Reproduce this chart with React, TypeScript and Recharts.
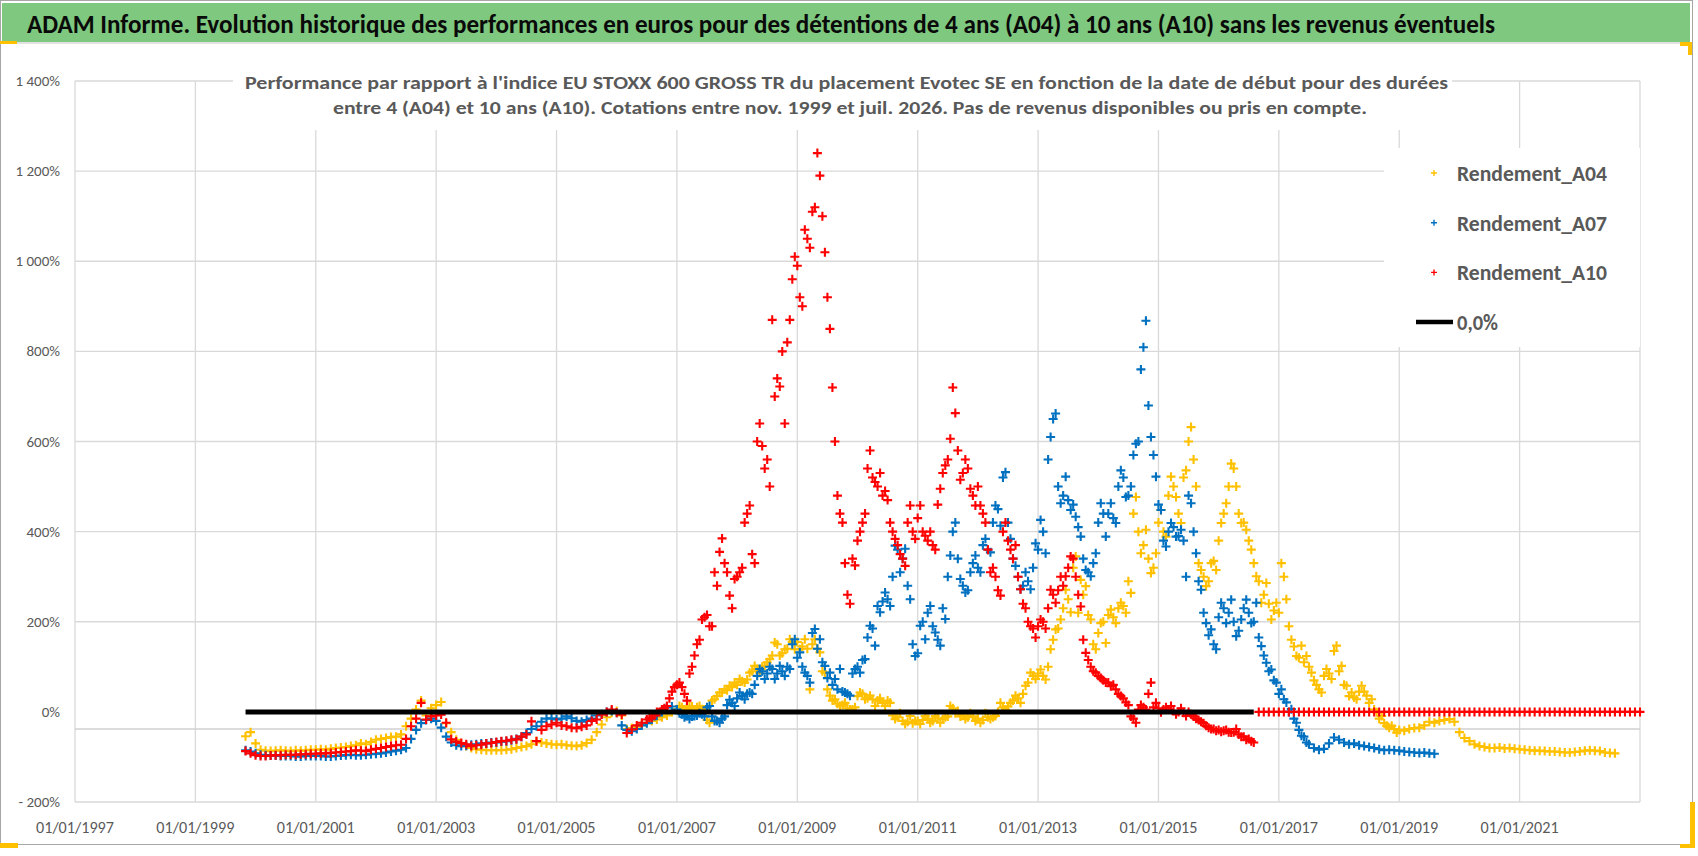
import {
  CartesianGrid,
  Legend,
  ReferenceLine,
  Scatter,
  ScatterChart,
  XAxis,
  YAxis,
} from "recharts";

const FONT =
  "Carlito, 'Liberation Sans Narrow', 'DejaVu Sans Condensed', 'Liberation Sans', sans-serif";

const TITLE =
  "ADAM Informe. Evolution historique des performances en euros pour des détentions de 4 ans (A04) à 10 ans (A10) sans les revenus éventuels";
const SUBTITLE_1 =
  "Performance par rapport à l'indice EU STOXX 600 GROSS TR  du placement Evotec SE en fonction de la date de début pour des durées";
const SUBTITLE_2 =
  "entre 4 (A04) et 10 ans (A10). Cotations entre nov. 1999 et juil. 2026. Pas de revenus disponibles ou pris en compte.";

// axis ticks (x in years, y in %)
const xTicks = [1997, 1999, 2001, 2003, 2005, 2007, 2009, 2011, 2013, 2015, 2017, 2019, 2021];
const yTicks = [-200, 0, 200, 400, 600, 800, 1000, 1200, 1400];
const yGridValues = [-200, 200, 400, 600, 800, 1000, 1200, 1400];
const axisCrossing = -38;

const seriesOrder = ["Rendement_A04", "Rendement_A07", "Rendement_A10", "0,0%"];

// readings at the start of each month, first month given by *Start
const a04Start = "1999-11";
const a04Values = [
  -54, -45,
  -70, -84, -86, -87, -86, -85, -86, -87, -85, -86, -85, -84, // 2000
  -84, -83, -84, -82, -80, -79, -78, -76, -74, -70, -72, -67, // 2001
  -62, -60, -58, -56, -55, -50, -32, -15, 5, 25, -8, 8, // 2002
  15, 22, -25, -45, -62, -70, -76, -80, -83, -84, -85, -85, // 2003
  -85, -85, -84, -83, -80, -78, -76, -72, -65, -68, -70, -72, // 2004
  -73, -72, -74, -75, -76, -74, -69, -62, -45, -28, -12, -2, // 2005
  2, -8, -38, -36, -33, -28, -24, -20, -17, -12, -8, 0, // 2006
  6, 10, 8, 12, 10, 6, -18, 25, 35, 43, 48, 55, // 2007
  60, 68, 72, 90, 95, 100, 110, 125, 150, 130, 140, 155, // 2008
  155, 145, 140, 150, 140, 90, 50, 25, 18, 15, 8, 5, // 2009
  35, 40, 30, 28, 25, 20, 25, -8, -12, -20, -22, -25, // 2010
  -20, -18, -15, -20, -14, -16, -10, 8, 2, -8, -12, -10, // 2011
  -15, -18, -12, -12, 0, 10, 12, 25, 30, 40, 65, 80, // 2012
  85, 80, 100, 160, 185, 230, 250, 320, 220, 260, 215, 150, // 2013
  175, 200, 215, 210, 230, 235, 290, 440, 400, 370, 340, 320, // 2014
  420, 400, 480, 500, 440, 520, 600, 560, 330, 300, 290, 335, // 2015
  380, 440, 500, 540, 440, 420, 380, 330, 290, 260, 240, 225, // 2016
  220, 300, 190, 145, 120, 110, 100, 70, 50, 80, 85, 135, // 2017
  90, 60, 35, 32, 45, 45, 20, 5, -15, -25, -35, -38, // 2018
  -40, -42, -38, -36, -35, -30, -22, -24, -20, -18, -16, -22, // 2019
  -45, -58, -65, -72, -76, -78, -80, -80, -79, -81, -80, -82, // 2020
  -83, -84, -85, -86, -86, -87, -88, -88, -89, -90, -90, -89, // 2021
  -88, -86, -85, -86, -87, -90, -91, -92, // 2022
];
// mid-month readings where the cloud is wide
const a04MidStart = "2007-01";
const a04MidValues = [
  13, 5, 13, 5, 13, 5, -24, 28, 43, 50, 58, 65, // 2007
  73, 65, 87, 102, 87, 102, 117, 154, 125, 139, 161, 139, // 2008
  139, 161, 50, 161, 132, 87, 36, 28, 13, 20, 5, 10, // 2009
  43, 28, 36, 13, 30, 13, 20, -16, -3, -27, -9, -20, // 2010
  -27, -9, -24, -9, -24, -12, 13, -3, -10, -16, -3, -20, // 2011
  -24, -3, -16, -9, 20, 5, 20, 36, 20, 58, 87, 73, // 2012
  94, 72, 139, 183, 205, 271, 221, 345, 293, 279, 205, 139, // 2013
  197, 153, 227, 197, 242, 220, 264, 477, 352, 404, 308, 352, // 2014
  448, 389, 522, 477, 419, 536, 632, 500, 315, 279, 330, 315, // 2015
  419, 463, 551, 500, 419, 404, 360, 301, 242, 286, 205, 242, // 2016
  330, 250, 160, 124, 147, 124, 87, 60, 43, 95, 73, 147, // 2017
  102, 58, 43, 28, 58, 36, 28, -1, -9, -31, -31, -46, // 2018
];

const a07Start = "1999-11";
const a07Values = [
  -85, -88,
  -92, -95, -96, -97, -97, -98, -98, -98, -99, -99, -98, -98, // 2000
  -98, -98, -99, -99, -98, -97, -96, -95, -96, -96, -95, -94, // 2001
  -93, -92, -90, -88, -86, -84, -80, -60, -40, -25, -18, -15, // 2002
  -20, -35, -55, -68, -74, -76, -75, -73, -72, -70, -70, -68, // 2003
  -68, -66, -65, -63, -60, -55, -47, -38, -32, -22, -15, -14, // 2004
  -17, -15, -10, -14, -20, -22, -18, -15, -8, -5, 0, 2, // 2005
  -2, -30, -40, -43, -38, -30, -25, -17, -8, 0, 10, 12, // 2006
  5, -5, -9, -10, -8, -5, 10, -10, -20, -15, 15, 20, // 2007
  30, 35, 40, 40, 80, 90, 85, 95, 85, 90, 100, 150, // 2008
  120, 100, 80, 175, 140, 110, 75, 60, 50, 45, 40, 85, // 2009
  100, 115, 165, 185, 235, 245, 250, 300, 360, 340, 280, 150, // 2010
  130, 200, 220, 190, 160, 230, 300, 400, 340, 280, 270, 330, // 2011
  320, 370, 360, 420, 450, 520, 420, 340, 300, 280, 290, 320, // 2012
  360, 400, 560, 650, 500, 480, 470, 460, 410, 340, 310, 330, // 2013
  420, 440, 440, 430, 500, 520, 480, 570, 600, 809, 680, 570, // 2014
  460, 380, 400, 410, 390, 380, 480, 400, 290, 220, 170, 150, // 2015
  210, 230, 220, 200, 180, 230, 220, 200, 165, 125, 90, 70, // 2016
  40, 28, 0, -15, -40, -55, -72, -80, -84, -82, -70, -57, // 2017
  -62, -68, -72, -70, -74, -76, -78, -80, -83, -85, -84, -85, // 2018
  -86, -88, -89, -90, -91, -90, -92, -93, // 2019
];
const a07MidStart = "2007-01";
const a07MidValues = [
  -3, -12, -16, -9, -3, -10, 13, -20, -24, -10, 27, 13, // 2007
  43, 28, 43, 60, 95, 73, 100, 73, 102, 80, 95, 161, // 2008
  132, 87, 65, 184, 161, 102, 87, 73, 95, 43, 36, 95, // 2009
  87, 117, 191, 147, 221, 265, 235, 369, 310, 362, 250, 124, // 2010
  191, 161, 235, 176, 147, 206, 347, 420, 295, 265, 310, 347, // 2011
  310, 384, 354, 458, 413, 532, 384, 324, 272, 310, 272, 374, // 2012
  426, 352, 610, 662, 463, 522, 448, 433, 389, 315, 301, 352, // 2013
  463, 389, 463, 419, 536, 477, 500, 595, 760, 868, 610, 522, // 2014
  448, 367, 419, 389, 404, 300, 463, 352, 271, 197, 183, 139, // 2015
  242, 197, 249, 168, 205, 249, 197, 242, 146, 109, 94, 65, // 2016
  50, 21, 6, -24, -53, -68, // 2017
];

const a10Start = "1999-11";
const a10Values = [
  -87, -92,
  -96, -98, -98, -97, -96, -96, -95, -95, -95, -94, -94, -93, // 2000
  -93, -92, -92, -91, -90, -89, -88, -87, -85, -86, -87, -84, // 2001
  -82, -80, -78, -76, -74, -73, -60, -32, -15, 20, -17, -10, // 2002
  -8, -6, -24, -61, -66, -69, -72, -76, -74, -73, -70, -69, // 2003
  -67, -65, -64, -62, -61, -55, -50, -21, -65, -40, -32, -28, // 2004
  -24, -30, -32, -35, -36, -33, -30, -20, -17, -6, 0, 5, // 2005
  -2, -6, -47, -39, -30, -24, -17, -13, 0, 5, 13, 45, // 2006
  60, 55, 25, 100, 150, 205, 215, 190, 280, 385, 310, 230, // 2007
  300, 320, 440, 350, 600, 590, 560, 870, 740, 800, 820, 960, // 2008
  990, 900, 1050, 1110, 1240, 1100, 920, 720, 480, 420, 260, 340, // 2009
  380, 420, 540, 520, 500, 480, 470, 400, 370, 340, 420, 400, // 2010
  430, 400, 380, 370, 460, 530, 560, 720, 580, 530, 540, 480, // 2011
  500, 440, 360, 320, 270, 400, 380, 340, 300, 240, 200, 185, // 2012
  190, 200, 230, 260, 270, 280, 320, 340, 260, 160, 115, 90, // 2013
  80, 70, 65, 60, 40, 30, 15, -15, 5, 10, 40, 10, // 2014
  8, 5, 5, 2, 0, -2, 0, -10, -18, -25, -35, -38, // 2015
  -40, -42, -45, -45, -50, -55, -60, -68, 0, 0, 0, 0, // 2016
  0, 0, 0, 0, 0, 0, 0, 0, 0, 0, 0, 0, // 2017
  0, 0, 0, 0, 0, 0, 0, 0, 0, 0, 0, 0, // 2018
  0, 0, 0, 0, 0, 0, 0, 0, 0, 0, 0, 0, // 2019
  0, 0, 0, 0, 0, 0, 0, 0, 0, 0, 0, 0, // 2020
  0, 0, 0, 0, 0, 0, 0, 0, 0, 0, 0, 0, // 2021
  0, 0, 0, 0, 0, 0, 0, 0, 0, 0, 0, 0, // 2022
  0, // 2023
];
const a10MidStart = "2006-07";
const a10MidValues = [
  -13, -8, 0, 8, 30, 55, // 2006
  65, 40, 85, 125, 160, 210, 190, 310, 355, 330, 258, 295, // 2007
  310, 420, 458, 330, 640, 540, 500, 700, 722, 640, 870, 1010, // 2008
  920, 1070, 1030, 1120, 1190, 1020, 850, 600, 440, 330, 240, 325, // 2009
  400, 440, 580, 510, 530, 490, 420, 384, 350, 324, 458, 384, // 2010
  458, 391, 400, 360, 495, 547, 606, 663, 515, 560, 495, 458, // 2011
  458, 420, 310, 300, 258, 420, 360, 370, 272, 230, 190, 165, // 2012
  205, 185, 271, 242, 300, 301, 345, 300, 234, 131, 100, 87, // 2013
  75, 65, 57, 50, 35, 21, -10, -24, 15, 5, 65, 20, // 2014
  -1, 10, 13, -5, 8, -9, -5, -15, -22, -31, -38, -42, // 2015
  -44, -40, -46, -38, -55, -62, -65, // 2016
];

const zeroLineDates = ["1999-11", "2016-08"];
const zeroLineValues = [0, 0];

function monthToYear(month: string): number {
  const [y, m] = month.split("-").map(Number);
  return y + (m - 1) / 12;
}

function monthly(start: string, values: number[], dayOffset = 0) {
  const first = monthToYear(start) + dayOffset / 12;
  return values.map((v, i) => ({ x: first + i / 12, y: v }));
}

const a04Data = [...monthly(a04Start, a04Values), ...monthly(a04MidStart, a04MidValues, 0.5)];
const a07Data = [...monthly(a07Start, a07Values), ...monthly(a07MidStart, a07MidValues, 0.5)];
const a10Data = [...monthly(a10Start, a10Values), ...monthly(a10MidStart, a10MidValues, 0.5)];
const zeroData = zeroLineDates.map((d, i) => ({ x: monthToYear(d), y: zeroLineValues[i] }));

function formatPercent(v: number): string {
  if (v < 0) return `- ${Math.abs(v)}%`;
  if (v >= 1000) return `${Math.floor(v / 1000)} ${String(v % 1000).padStart(3, "0")}%`;
  return `${v}%`;
}

function Cross(props: any) {
  const { cx, cy, fill } = props;
  if (cx == null || cy == null) return <g />;
  return (
    <path
      d={`M${cx - 4.5},${cy}h9M${cx},${cy - 4.5}v9`}
      stroke={fill}
      strokeWidth={2.1}
      fill="none"
    />
  );
}

function NoMark() {
  return <g />;
}

function XTick(props: any) {
  const { x, y, payload } = props;
  return (
    <text
      x={x}
      y={y + 31}
      textAnchor="middle"
      fill="#595959"
      fontSize={15.5}
      fontFamily={FONT}
      textLength={78}
      lengthAdjust="spacingAndGlyphs"
    >
      {`01/01/${payload.value}`}
    </text>
  );
}

function YTick(props: any) {
  const { x, y, payload } = props;
  return (
    <text x={x - 15} y={y + 5} textAnchor="end" fill="#595959" fontSize={15} fontFamily={FONT}>
      {formatPercent(payload.value)}
    </text>
  );
}

function LegendBox(props: any) {
  const items = [...(props.payload || [])].sort(
    (a: any, b: any) => seriesOrder.indexOf(a.value) - seriesOrder.indexOf(b.value)
  );
  return (
    <svg width={256} height={199} style={{ display: "block", background: "#fff" }}>
      {items.map((item: any, i: number) => {
        const cy = 25 + i * 49.7;
        const isLine = item.type === "line";
        return (
          <g key={item.value}>
            {isLine ? (
              <line x1={32} x2={69} y1={cy} y2={cy} stroke="#000" strokeWidth={4.5} />
            ) : (
              <path d={`M47,${cy}h6M50,${cy - 3}v6`} stroke={item.color} strokeWidth={1.4} />
            )}
            <text
              x={73}
              y={cy + 8}
              fill="#595959"
              fontSize={23}
              fontWeight="bold"
              fontFamily={FONT}
              textLength={isLine ? 41 : 150}
              lengthAdjust="spacingAndGlyphs"
            >
              {item.value}
            </text>
          </g>
        );
      })}
    </svg>
  );
}

export default function App() {
  return (
    <div
      style={{
        position: "absolute",
        left: 0,
        top: 0,
        width: 1698,
        height: 856,
        background: "#fff",
        overflow: "hidden",
        fontFamily: FONT,
      }}
    >
      <div
        style={{
          position: "absolute",
          left: 0,
          top: 0,
          width: 1693,
          height: 845,
          border: "1.5px solid #a6a6a6",
          boxSizing: "border-box",
        }}
      />
      <div style={{ position: "absolute", left: 0, top: 0 }}>
        <ScatterChart width={1698} height={856} margin={{ top: 81, right: 58, bottom: 24, left: 0 }}>
          <CartesianGrid horizontal={false} stroke="#d9d9d9" strokeWidth={1.3} />
          <XAxis
            type="number"
            dataKey="x"
            domain={[1997, 2023]}
            ticks={xTicks}
            height={30}
            axisLine={false}
            tickLine={false}
            tickSize={0}
            tickMargin={0}
            tick={<XTick />}
            interval={0}
          />
          <YAxis
            type="number"
            dataKey="y"
            domain={[-200, 1400]}
            ticks={yTicks}
            width={75}
            axisLine={false}
            tickLine={false}
            tickSize={0}
            tickMargin={0}
            tick={<YTick />}
            interval={0}
          />
          {yGridValues.map((v) => (
            <ReferenceLine key={v} y={v} stroke="#d9d9d9" strokeWidth={1.3} />
          ))}
          <ReferenceLine y={axisCrossing} stroke="#d0d0d0" strokeWidth={1.5} />
          <Scatter
            name="Rendement_A04"
            data={a04Data}
            fill="#FFC000"
            shape={<Cross />}
            isAnimationActive={false}
          />
          <Scatter
            name="Rendement_A07"
            data={a07Data}
            fill="#0070C0"
            shape={<Cross />}
            isAnimationActive={false}
          />
          <Scatter
            name="Rendement_A10"
            data={a10Data}
            fill="#FF0000"
            shape={<Cross />}
            isAnimationActive={false}
          />
          <Scatter
            name="0,0%"
            data={zeroData}
            fill="#000"
            line={{ stroke: "#000", strokeWidth: 5 }}
            shape={<NoMark />}
            legendType="line"
            isAnimationActive={false}
          />
          <Legend
            layout="horizontal"
            align="center"
            verticalAlign="middle"
            content={<LegendBox />}
            wrapperStyle={{ position: "absolute", left: 1384, top: 148, width: 256, height: 199 }}
          />
        </ScatterChart>
      </div>
      {/* title bar */}
      <div
        style={{
          position: "absolute",
          left: 2,
          top: 3,
          width: 1688,
          height: 39,
          background: "#7ec87f",
        }}
      />
      <div style={{ position: "absolute", left: 2, top: 42, width: 1688, height: 2, background: "#e2e2e2" }} />
      <svg width={1698} height={135} style={{ position: "absolute", left: 0, top: 0 }}>
        <text
          x={27}
          y={33}
          fontSize={26}
          fontWeight="bold"
          fill="#0a0a0a"
          fontFamily={FONT}
          textLength={1468}
          lengthAdjust="spacingAndGlyphs"
        >
          {TITLE}
        </text>
        <rect x={233} y={60} width={1219} height={70} fill="#fff" />
        <text
          x={245}
          y={89}
          fontSize={19}
          fontWeight="bold"
          fill="#595959"
          fontFamily={FONT}
          textLength={1203}
          lengthAdjust="spacingAndGlyphs"
        >
          {SUBTITLE_1}
        </text>
        <text
          x={333}
          y={114}
          fontSize={19}
          fontWeight="bold"
          fill="#595959"
          fontFamily={FONT}
          textLength={1034}
          lengthAdjust="spacingAndGlyphs"
        >
          {SUBTITLE_2}
        </text>
      </svg>
      {/* selection handles */}
      <div style={{ position: "absolute", left: 0, top: 41, width: 17, height: 3, background: "#ffc000" }} />
      <div style={{ position: "absolute", left: 1680, top: 42, width: 12, height: 4, background: "#ffc000" }} />
      <div style={{ position: "absolute", left: 1688, top: 42, width: 4, height: 13, background: "#ffc000" }} />
      <div style={{ position: "absolute", left: 1690, top: 802, width: 5, height: 46, background: "#ffc000" }} />
      <div style={{ position: "absolute", left: 1680, top: 844, width: 15, height: 4, background: "#ffc000" }} />
      <div style={{ position: "absolute", left: 0, top: 843, width: 18, height: 5, background: "#ffc000" }} />
    </div>
  );
}
